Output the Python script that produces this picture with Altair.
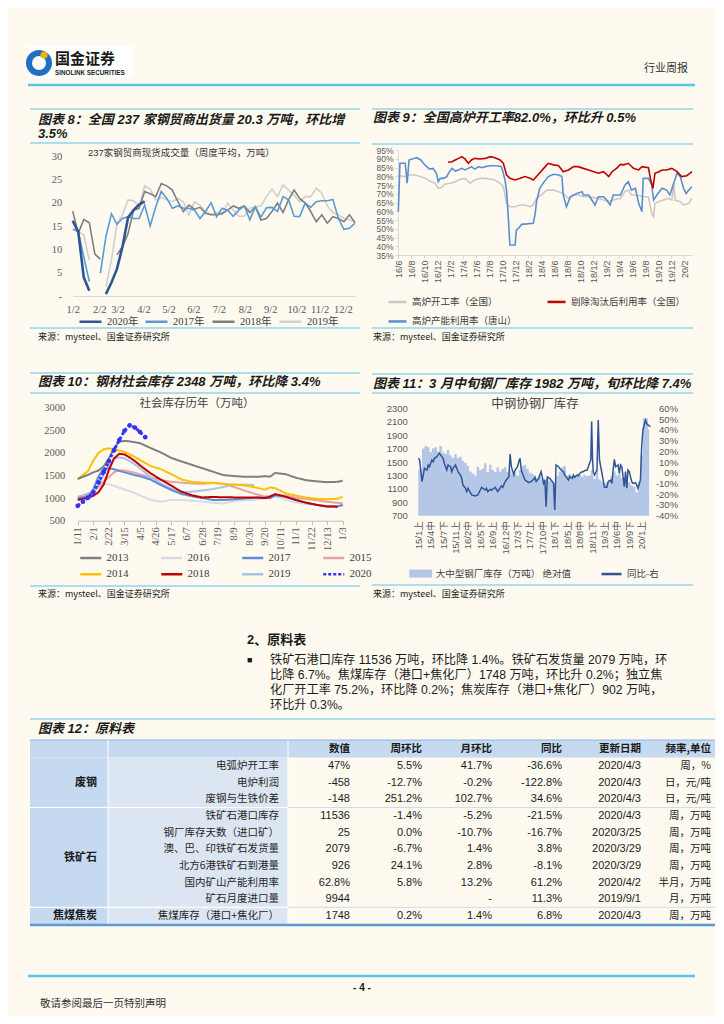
import json
import altair as alt
import pandas as pd

W, H = 708, 1008
BG = "#FFFAF0"
LB = "#5BC2EB"
CJK = "Noto Sans CJK SC"
SANS = "Liberation Sans, Noto Sans CJK SC"
SERIF = "Liberation Serif, Noto Sans CJK SC"
INK = "#1A1A1A"
AXC = "#595959"
SRC = "来源：mysteel、国金证券研究所"

# ---------------- chart 8 data (weekly, week 0 = 1/2) ----------------
c8_names = ["2020年", "2017年", "2018年", "2019年"]
c8_colors = ["#2F5597", "#5B9BD5", "#7F7F7F", "#D0D0D0"]
c8_2020 = [16.1, 13.8, 4.0, 1.1, None, None, 0.4, 2.9, 5.8, 10.6, 16.8, 18.4, 19.6, 20.3]
c8_2017 = [14.3, 13.8, 8.4, 3.1, None, 4.9, 12.7, 17.6, 15.4, 16.6, 17.0, 16.6, 16.6, 19.5, 15.0, 19.1, 22.4, 20.9, 18.8, 19.3,
           18.8, 18.8, 18.4, 16.6, 18.1, 20.0, 17.0, 18.8, 18.4, 17.1, 18.4, 19.3, 16.3, 19.1, 16.9, 18.9, 19.0, 18.1, 21.3, 20.6,
           17.1, 17.0, 19.9, 19.0, 20.2, 20.4, 20.4, 20.7, 16.6, 14.3, 14.5, 15.6]
c8_2018 = [18.2, 13.4, 16.4, 15.7, 9.0, 7.9, None, None, 8.8, 10.6, 13.4, 18.4, 18.8, 22.4, 21.9, 21.3, 24.1, 23.6, 22.7, 20.2,
           18.1, 19.5, 18.6, 19.0, 17.7, 17.4, 17.4, 17.7, 18.4, 19.3, 18.8, 19.3, 17.9, 19.1, 16.3, 16.6, 18.1, 19.9, 17.9, 20.6,
           22.7, 20.9, 19.9, 18.1, 15.9, 17.4, 15.6, 17.0, 16.6, 15.9, 17.4, 15.7]
c8_2019 = [16.3, 13.8, 13.1, 7.7, None, None, 2.0, 7.7, 15.4, 17.4, 20.6, 20.4, 19.3, 23.6, 22.9, 20.6, 21.1, 20.6, 20.2, 20.9,
           20.2, 17.4, 20.2, 19.5, 18.1, 17.4, 17.9, 17.4, 19.9, 18.4, 17.1, 17.1, 18.8, 19.1, 19.3, 21.3, 22.9, 21.3, 23.8, 22.7,
           21.6, 20.2, 21.3, 21.3, 23.1, 22.0, 19.3, 17.9, 17.4, 16.6, 16.3, 15.9]
c8_tick_pos = [0, 4.8, 8.1, 12.8, 17.3, 21.8, 26.4, 31.1, 35.7, 40.4, 44.6, 48.8]
c8_tick_lab = ["1/2", "2/2", "3/2", "4/2", "5/2", "6/2", "7/2", "8/2", "9/2", "10/2", "11/2", "12/2"]

# ---------------- chart 9 data (x = months since 2016-06) ----------------
c9_names = ["高炉开工率（全国）", "剔除淘汰后利用率（全国）", "高炉产能利用率（唐山）"]
c9_colors = ["#C9C9C9", "#C00000", "#5B8ED0"]
c9_gray_m = [0.05, 1.1, 1.8, 2.6, 3.4, 4.2, 4.9, 5.7, 6.2, 6.7, 7.2, 8.0, 8.8, 9.5, 10.3, 11.1, 11.8, 12.6, 13.4, 14.2,
             14.9, 15.7, 16.2, 16.7, 17.2, 18.0, 18.8, 19.5, 20.3, 20.8, 21.3, 22.1, 22.9, 23.9, 24.7, 25.4, 26.2, 27.0, 27.7, 28.5,
             29.3, 30.1, 30.8, 31.6, 32.4, 33.1, 34.2, 34.9, 35.4, 35.9, 36.7, 37.7, 38.5, 39.0, 39.3, 39.5, 40.1, 40.8, 41.6, 42.1,
             42.4, 42.6, 43.4, 43.9, 44.7, 45.2]
c9_gray_v = [80.3, 79.8, 80.7, 80.7, 79.8, 78.8, 77.3, 76.0, 73.1, 73.5, 75.4, 76.0, 76.9, 78.2, 78.8, 76.0, 77.9, 78.8, 78.8, 78.4,
             77.9, 76.0, 74.0, 64.5, 62.6, 62.6, 63.6, 63.6, 62.6, 63.6, 67.4, 69.7, 72.1, 72.1, 71.2, 70.2, 67.4, 69.3, 69.3, 68.3,
             68.3, 67.8, 67.4, 66.4, 65.5, 66.4, 67.4, 71.2, 72.1, 69.3, 69.3, 68.3, 68.3, 58.8, 56.9, 64.5, 65.5, 66.4, 67.4, 66.4,
             76.0, 66.4, 65.5, 63.6, 64.5, 67.4]
c9_red_m = [7.7, 8.3, 8.8, 9.3, 9.8, 10.3, 10.8, 11.3, 11.8, 12.6, 13.4, 14.2, 14.9, 15.7, 16.2, 16.7, 17.2, 18.0, 18.8, 19.5,
            20.3, 20.8, 21.6, 22.4, 23.1, 23.9, 24.7, 25.4, 26.2, 27.0, 27.7, 28.5, 29.3, 30.1, 30.8, 31.6, 32.4, 32.9, 33.6, 34.2,
            34.7, 35.4, 36.2, 37.0, 37.5, 38.5, 38.8, 39.2, 39.5, 40.1, 40.6, 41.3, 42.1, 42.9, 43.6, 44.4, 45.2]
c9_red_v = [88.0, 88.3, 89.3, 90.2, 91.2, 89.9, 87.4, 89.3, 90.2, 89.9, 90.2, 91.2, 90.6, 89.3, 87.4, 80.7, 78.8, 77.9, 78.8, 79.8,
            78.8, 77.9, 81.1, 84.5, 87.4, 86.5, 86.0, 82.6, 83.6, 85.5, 85.5, 84.5, 83.6, 82.6, 81.7, 82.6, 79.8, 82.6, 84.5, 86.8,
            86.5, 87.4, 84.5, 83.6, 85.5, 84.9, 78.8, 73.1, 81.7, 82.6, 83.6, 83.6, 84.5, 82.6, 79.8, 80.3, 82.6]
c9_blue_m = [0.05, 0.3, 1.1, 1.3, 1.4, 1.7, 2.4, 2.9, 3.5, 3.9, 4.4, 4.9, 5.4, 5.9, 6.2, 6.5, 7.0, 7.5, 7.9, 8.3,
             8.8, 9.3, 9.8, 10.3, 10.8, 11.3, 11.8, 12.4, 12.9, 13.4, 14.2, 15.2, 15.9, 16.2, 16.5, 16.7, 17.0, 17.2, 18.0, 18.2,
             18.5, 19.0, 20.8, 21.1, 21.3, 21.8, 22.4, 23.1, 23.9, 24.7, 25.2, 25.4, 25.9, 26.5, 27.0, 27.5, 28.3, 28.5, 29.3, 29.8,
             30.3, 30.8, 31.6, 32.1, 32.6, 33.1, 34.2, 34.9, 35.4, 35.9, 36.5, 37.0, 37.5, 37.7, 38.5, 39.0, 39.3, 39.8, 40.6, 41.3,
             41.8, 42.9, 43.4, 43.9, 44.3, 44.7, 45.2]
c9_blue_v = [59.8, 87.4, 87.4, 80.7, 76.0, 89.3, 90.2, 90.6, 89.3, 87.4, 85.5, 84.1, 84.5, 81.7, 76.9, 78.8, 78.8, 79.8, 82.6, 84.5,
             83.0, 83.6, 84.5, 83.6, 84.5, 85.5, 84.1, 85.5, 84.9, 85.5, 86.0, 86.0, 85.5, 81.7, 76.9, 71.2, 54.0, 40.7, 40.7, 49.3,
             50.2, 52.5, 53.1, 58.8, 65.5, 73.1, 76.5, 79.8, 81.1, 80.7, 79.8, 69.3, 62.6, 68.3, 69.3, 70.2, 71.2, 69.3, 69.3, 66.4,
             63.6, 68.3, 68.3, 66.4, 63.6, 69.3, 69.3, 75.0, 76.9, 72.1, 73.1, 64.5, 59.8, 78.8, 78.8, 75.0, 66.4, 69.3, 73.1, 72.1,
             69.3, 81.7, 79.8, 73.1, 70.2, 72.1, 74.0]

# ---------------- chart 10 data (x = weeks since 1/11) ----------------
c10_names = ["2013", "2016", "2017", "2015", "2014", "2018", "2019", "2020"]
c10_colors = ["#7F7F7F", "#D5DCE6", "#5B8ED6", "#E6A3A3", "#FFC000", "#C00000", "#A9C4E8", "#3333FF"]
c10_weeks = [0, 2, 3, 4, 5, 6, 7, 8, 9, 10, 11, 12, 14, 16, 18, 20, 22, 24, 26, 28, 30, 32, 34, 35, 36, 37, 38, 40, 42, 44, 46, 48, 50, 51]
c10_2013 = [1422, 1515, 1570, 1610, 1700, 1880, 2110, 2248, 2265, 2255, 2235, 2215, 2110, 2010, 1890, 1810, 1735, 1660, 1585, 1510,
            1488, 1474, 1474, 1474, 1485, 1474, 1555, 1530, 1450, 1395, 1370, 1352, 1360, 1385]
c10_2014 = [1422, 1600, 1830, 2000, 2080, 2100, 2080, 2050, 2020, 1970, 1910, 1840, 1710, 1640, 1530, 1410, 1360, 1340, 1340, 1310,
            1300, 1280, 1240, 1215, 1185, 1235, 1220, 1110, 1055, 1010, 985, 975, 985, 1030]
c10_2015 = [1030, 1095, 1150, 1260, 1370, 1460, 1575, 1620, 1610, 1585, 1560, 1525, 1460, 1400, 1360, 1340, 1325, 1315, 1338, 1320,
            1250, 1170, 1100, 1070, 1035, 1050, 1072, 1060, 1010, 980, 950, 920, 895, 883]
c10_2016 = [1000, 1050, 1120, 1230, 1300, 1310, 1270, 1230, 1190, 1150, 1110, 1060, 960, 920, 960, 960, 940, 920, 900, 880,
            930, 950, 960, 980, 990, 1000, 1040, 960, 900, 870, 850, 820, 810, 830]
c10_2017 = [995, 1040, 1200, 1480, 1650, 1660, 1640, 1600, 1570, 1540, 1505, 1485, 1410, 1290, 1180, 1090, 1040, 1000, 960, 957,
            970, 990, 1005, 1012, 1015, 995, 1060, 1030, 965, 890, 850, 812, 820, 850]
c10_2018 = [960, 1010, 1050, 1130, 1300, 1620, 1880, 1980, 1965, 1900, 1820, 1725, 1550, 1410, 1275, 1140, 1062, 1015, 1025, 1018,
            1016, 1016, 1016, 1010, 1000, 1030, 1090, 1030, 955, 900, 850, 815, 810, None]
c10_2019 = [1016, 1070, 1150, 1300, 1510, 1720, 1870, 1900, 1880, 1820, 1745, 1660, 1470, 1326, 1210, 1142, 1142, 1168, 1200, 1245,
            1295, 1300, 1289]
c10_2020 = [830, 920, 1010, 1120, 1350, 1580, 1820, 2060, 2285, 2490, 2610, 2560, 2460, 2348]
c10_tick_lab = ["1/11", "2/1", "2/22", "3/15", "4/5", "4/26", "5/17", "6/7", "6/28", "7/19", "8/9", "8/30", "9/20",
                "10/11", "11/1", "11/22", "12/13", "1/3"]

# ---------------- chart 11 data (x = ten-day periods since 15/1上) ----------------
c11_stock = [1380, 1400, 1700, 1740, 1720, 1650, 1700, 1720, 1660, 1740,
             1640, 1620, 1680, 1600, 1560, 1620, 1560, 1580, 1520, 1490,
             1440, 1360, 1330, 1300, 1430, 1380, 1400, 1480, 1350, 1460,
             1380, 1350, 1420, 1360, 1400, 1420, 1350, 1380, 1320, 1340,
             1300, 1380, 1440, 1460, 1400, 1340, 1320, 1300, 1260, 1290,
             1240, 1250, 1260, 1220, 1200, 1180, 1290, 1360, 1420, 1440,
             1300, 1320, 1290, 1300, 1300, 1310, 1280, 1310, 1290, 1300,
             1380, 1250, 1370, 1240, 1210, 1180, 1200, 1230, 1290, 1360,
             1300, 1320, 1260, 1200, 1240, 1200, 1150, 1130, 1050, 1200,
             1600, 2150, 2150, 1982]
c11_yoy = [(0, 13.4), (1, 12.5), (3, -8.3), (4, -2.1), (5, 4.1), (7, 2.5), (8, 7.2), (9, 5.6), (11, 11.9), (12, 10.3),
           (13, 13.4), (15, 15.0), (16, 16.6), (17, 18.1), (19, 15.0), (20, 13.4), (21, 8.8), (23, 2.5), (24, 7.2), (26, 5.6),
           (27, 1.0), (28, 4.1), (30, 7.2), (31, 4.1), (32, 1.0), (34, -2.1), (35, -5.2), (36, -11.4), (38, -14.5), (39, -17.6),
           (40, -14.5), (42, -18.6), (43, -20.7), (46, -21.7), (48, -20.7), (50, -16.1), (51, -13.6), (54, -16.1), (55, -14.5),
           (56, -17.6), (58, -15.5), (59, -16.1), (62, -13.6), (64, -17.6), (67, -12.4), (68, -13.6), (70, -8.3), (71, -6.8),
           (73, -3.7), (74, 17.5), (75, 5.6), (77, -2.1), (78, 2.5), (80, 5.6), (81, 10.3), (82, 13.4), (83, 2.5), (85, -3.7),
           (86, -6.8), (89, -9.3), (91, -8.3), (93, -6.1), (94, -4.3), (95, -8.3), (97, -5.2), (99, 1.0), (101, -9.9),
           (102, -6.8), (103, -31.6), (104, -4.0), (106, -5.2), (107, -6.8), (109, -9.9), (110, -34.7), (111, 7.2), (113, 5.6),
           (114, 4.1), (115, 2.5), (117, 1.0), (118, -2.1), (120, -5.2), (121, -6.8), (122, -3.7), (124, -5.2), (125, -2.1),
           (126, -4.3), (128, -2.1), (129, -3.0), (130, -0.6), (132, 1.0), (133, 1.0), (134, 1.9), (136, 2.5), (137, 5.6),
           (139, 11.9), (139.7, 47.6), (140.4, 13.4), (141, 1.0), (142, -2.1), (144, 2.5), (145, 49.0), (146, 11.9),
           (148, -0.6), (149, -6.8), (150, -13.6), (152, -13.6), (153, -8.3), (155, -6.8), (156, -9.9), (157, 2.5),
           (158, 12.5), (159, 5.6), (161, 7.2), (162, -0.6), (163, 7.2), (164, 5.6), (166, -13.0), (167, 1.0), (168, -14.5),
           (169, 2.5), (170, 1.0), (172, -8.3), (173, -9.9), (175, -9.3), (176, -11.4), (177, -14.5), (179, -6.8), (180, 24.3),
           (181, 39.8), (183, 49.0), (184, 46.0), (185, 44.5), (187, 42.9)]
c11_bar_name = "大中型钢厂库存（万吨）  绝对值"
c11_line_name = "同比-右"

# ---------------- table data ----------------
tbl_items = ["电弧炉开工率", "电炉利润", "废钢与生铁价差", "铁矿石港口库存", "钢厂库存天数（进口矿）",
             "澳、巴、印铁矿石发货量", "北方6港铁矿石到港量", "国内矿山产能利用率", "矿石月度进口量", "焦煤库存（港口+焦化厂）"]
tbl_heads = ["数值", "周环比", "月环比", "同比", "更新日期", "频率,单位"]
tbl_value = ["47%", "-458", "-148", "11536", "25", "2079", "926", "62.8%", "9944", "1748"]
tbl_wow = ["5.5%", "-12.7%", "251.2%", "-1.4%", "0.0%", "-6.7%", "24.1%", "5.8%", "", "0.2%"]
tbl_mom = ["41.7%", "-0.2%", "102.7%", "-5.2%", "-10.7%", "1.4%", "2.8%", "13.2%", "-", "1.4%"]
tbl_yoy = ["-36.6%", "-122.8%", "34.6%", "-21.5%", "-16.7%", "3.8%", "-8.1%", "61.2%", "11.3%", "6.8%"]
tbl_date = ["2020/4/3", "2020/4/3", "2020/4/3", "2020/4/3", "2020/3/25", "2020/3/29", "2020/3/29", "2020/4/2", "2019/9/1", "2020/4/3"]
tbl_freq = ["周，%", "日，元/吨", "日，元/吨", "周，万吨", "周，万吨", "周，万吨", "周，万吨", "半月，万吨", "月，万吨", "周，万吨"]
tbl_cats = ["废钢", "铁矿石", "焦煤焦炭"]
tbl_cat_rows = [(0, 2), (3, 8), (9, 9)]

para_lines = [
    "铁矿石港口库存 11536 万吨，环比降 1.4%。铁矿石发货量 2079 万吨，环",
    "比降 6.7%。焦煤库存（港口+焦化厂）1748 万吨，环比升 0.2%；独立焦",
    "化厂开工率 75.2%，环比降 0.2%；焦炭库存（港口+焦化厂）902 万吨，",
    "环比升 0.3%。",
]

# ---------------- helpers ----------------
ONE = pd.DataFrame({"k": [0]})
LINE_SYM = "M-2,0H2"
RECT_SYM = "M-2,-0.7H2V0.7H-2Z"


def txt(x, y, s, size=11, bold=False, italic=False, color=INK, font=SANS, align="left"):
    kw = dict(align=align, baseline="middle", fontSize=size, color=color, font=font)
    if bold:
        kw["fontWeight"] = "bold"
    if italic:
        kw["fontStyle"] = "italic"
    return alt.Chart(pd.DataFrame({"t": [s]})).mark_text(**kw).encode(
        x=alt.value(x), y=alt.value(y), text="t:N")


def hline(x1, x2, y, color=LB, width=1.2):
    return alt.Chart(ONE).mark_rule(color=color, strokeWidth=width).encode(
        x=alt.value(x1), x2=alt.value(x2), y=alt.value(y))


def vline(x, y1, y2, color="#FFFFFF", width=1.0):
    return alt.Chart(ONE).mark_rule(color=color, strokeWidth=width).encode(
        x=alt.value(x), y=alt.value(y1), y2=alt.value(y2))


def box(x1, x2, y1, y2, fill):
    return alt.Chart(ONE).mark_rect(color=fill).encode(
        x=alt.value(x1), x2=alt.value(x2), y=alt.value(y1), y2=alt.value(y2))


def segs(xs, ys, name):
    out, seg = [], 0
    for x, y in zip(xs, ys):
        if y is None:
            seg += 1
            continue
        out.append({"x": x, "y": y, "s": name, "g": f"{name}#{seg}"})
    return out


def ax(orient, offset, **kw):
    base = dict(orient=orient, offset=offset, grid=False, title=None, labelFlush=False,
                labelOverlap=False, labelColor=AXC)
    base.update(kw)
    return alt.Axis(**base)


def line_legend(x_start, y_center, length, font, fsize, **kw):
    half = length / 2.0
    return alt.Legend(orient="none", legendX=x_start + half / 2.0, legendY=y_center - fsize / 2.0, title=None,
                      symbolType=LINE_SYM, symbolSize=half * half, symbolStrokeWidth=2.5,
                      labelFont=font, labelFontSize=fsize, labelColor="#404040",
                      labelOffset=half / 2.0 + 4, padding=0, **kw)


layers = []

# ---------------- page header ----------------
layers += [
    box(20, 124, 38, 70, "#FFFFFF"),
    alt.Chart(ONE).mark_point(shape="circle", size=400, filled=False, strokeWidth=6, color="#1F6FC5", opacity=1).encode(
        x=alt.value(31), y=alt.value(55)),
    alt.Chart(ONE).mark_point(shape="circle", size=50, filled=True, color="#F2B400", opacity=1).encode(
        x=alt.value(36), y=alt.value(47)),
    txt(47, 51, "国金证券", size=15, bold=True, font=CJK),
    txt(47, 65, "SINOLINK SECURITIES", size=6.3, bold=True, font="Liberation Sans"),
    txt(636, 61, "行业周报", size=11, color="#333333", font=CJK),
    hline(20, 687, 77, LB, 2.5),
]

# ---------------- frames / titles ----------------
TKW = dict(size=13, bold=True, italic=True, font=SANS)
layers += [
    hline(22, 352, 101), hline(364, 685, 101),
    txt(30, 112, "图表 8：全国 237 家钢贸商出货量 20.3 万吨，环比增", **TKW),
    txt(30, 126, "3.5%", **TKW),
    txt(365, 110, "图表 9：全国高炉开工率82.0%，环比升 0.5%", **TKW),
    hline(22, 352, 135), hline(364, 685, 136),
    txt(80, 145, "237家钢贸商现货成交量（周度平均，万吨）", size=9.5, color="#333333"),
    hline(22, 352, 320), hline(364, 685, 320),
    txt(30, 329, SRC, size=9, font=CJK), txt(365, 329, SRC, size=9, font=CJK),
    hline(22, 352, 365), hline(364, 685, 366),
    txt(30, 374, "图表 10：钢材社会库存 2348 万吨，环比降 3.4%", **TKW),
    txt(365, 376, "图表 11：3 月中旬钢厂库存 1982 万吨，旬环比降 7.4%", **TKW),
    hline(22, 352, 385), hline(364, 685, 385),
    txt(189, 396, "社会库存历年（万吨）", size=11.5, align="center", color="#404040", font=CJK),
    txt(527, 396, "中钢协钢厂库存", size=12.5, align="center", color="#404040", font=CJK),
    hline(22, 352, 578), hline(364, 685, 577),
    txt(30, 586, SRC, size=9, font=CJK), txt(365, 586, SRC, size=9, font=CJK),
]

# ---------------- chart 8 (one layer per series, each with its own one-entry legend) ----------------
X8 = alt.Scale(domain=[0, 51], range=[64.7, 347])
Y8 = alt.Scale(domain=[0, 30], range=[288, 148])
expr8 = "%s[indexof(%s, datum.value)]" % (json.dumps(c8_tick_lab), json.dumps(c8_tick_pos))
c8_data = {"2020年": c8_2020, "2017年": c8_2017, "2018年": c8_2018, "2019年": c8_2019}
c8_legend_x = {"2020年": 70, "2017年": 136, "2018年": 203, "2019年": 270}
c8_width = {"2020年": 2.6, "2017年": 1.6, "2018年": 1.6, "2019年": 1.6}
for k, nm in enumerate(["2019年", "2018年", "2017年", "2020年"]):
    vals = c8_data[nm]
    dfk = pd.DataFrame(segs(range(len(vals)), vals, nm))
    first = k == 0
    x_axis = ax("bottom", 288 - H, values=c8_tick_pos, labelExpr=expr8, domain=True, domainColor="#D9D9D9",
                ticks=False, labelFont=SERIF, labelFontSize=10.5, labelPadding=8, labelAngle=0) if first else None
    y_axis = ax("left", -64.7, values=[0, 5, 10, 15, 20, 25, 30], labelExpr="datum.value == 0 ? '-' : datum.label",
                domain=False, ticks=False, labelFont=SERIF, labelFontSize=10.5, labelPadding=11) if first else None
    layers.append(alt.Chart(dfk).mark_line(strokeWidth=c8_width[nm]).encode(
        x=alt.X("x:Q", scale=X8, axis=x_axis),
        y=alt.Y("y:Q", scale=Y8, axis=y_axis),
        color=alt.Color("s:N", scale=alt.Scale(domain=[nm], range=[c8_colors[c8_names.index(nm)]]),
                        legend=line_legend(c8_legend_x[nm], 312, 22, SERIF, 10.5)),
        detail="g:N",
    ))

# ---------------- chart 9 ----------------
X9 = alt.Scale(domain=[0, 45.2], range=[390, 684])
Y9 = alt.Scale(domain=[35, 95], range=[247, 142])
df9 = pd.DataFrame(segs(c9_gray_m, c9_gray_v, c9_names[0]) + segs(c9_blue_m, c9_blue_v, c9_names[2])
                   + segs(c9_red_m, c9_red_v, c9_names[1]))
leg9 = line_legend(379, 292.7, 18, CJK, 9.5, direction="horizontal", columns=2, columnPadding=25, rowPadding=8.5)
layers.append(alt.Chart(df9).mark_line(strokeWidth=1.6).encode(
    x=alt.X("x:Q", scale=X9, axis=ax("bottom", 247 - H, values=list(range(0, 45, 2)),
                                     labelExpr="(16 + floor((datum.value + 5) / 12)) + '/' + ((datum.value + 5) % 12 + 1)",
                                     domain=True, domainColor="#D9D9D9", ticks=True, tickSize=3, tickColor="#D9D9D9",
                                     labelFont=SANS, labelFontSize=9, labelPadding=2, labelAngle=-90)),
    y=alt.Y("y:Q", scale=Y9, axis=ax("left", -390, values=list(range(35, 96, 5)), labelExpr="datum.value + '%'",
                                     domain=True, domainColor="#D9D9D9", ticks=True, tickSize=3, tickColor="#D9D9D9",
                                     labelFont=SANS, labelFontSize=8.5, labelPadding=2)),
    color=alt.Color("s:N", scale=alt.Scale(domain=c9_names, range=c9_colors), legend=leg9),
    detail="g:N",
))

# ---------------- chart 10 ----------------
X10 = alt.Scale(domain=[0, 51], range=[69.7, 334.7])
Y10 = alt.Scale(domain=[500, 3000], range=[512.7, 399.7])
c10_series = {"2016": c10_2016, "2015": c10_2015, "2019": c10_2019, "2017": c10_2017, "2014": c10_2014,
              "2013": c10_2013, "2018": c10_2018}
rows10 = []
for nm, vals in c10_series.items():
    rows10 += segs(c10_weeks, vals, nm)
df10 = pd.DataFrame(rows10)
df10b = pd.DataFrame({"x": list(range(len(c10_2020))), "y": c10_2020})
leg10 = line_legend(71, 548.7, 21, SERIF, 11, direction="horizontal", columns=4, columnPadding=27, rowPadding=4.6)
dash10 = [[1, 0]] * 7 + [[3, 2]]
layers.append(alt.Chart(df10).mark_line(strokeWidth=2).encode(
    x=alt.X("x:Q", scale=X10, axis=ax("bottom", 512.7 - H, values=list(range(0, 52, 3)),
                                      labelExpr="%s[datum.value / 3]" % json.dumps(c10_tick_lab),
                                      domain=True, domainColor="#BFBFBF", ticks=True, tickSize=4, tickColor="#BFBFBF",
                                      labelFont=SERIF, labelFontSize=10.5, labelPadding=2, labelAngle=-90)),
    y=alt.Y("y:Q", scale=Y10, axis=ax("left", -69.7, values=list(range(500, 3001, 500)), format="d",
                                      domain=False, ticks=False, labelFont=SERIF, labelFontSize=10.5,
                                      labelPadding=13)),
    color=alt.Color("s:N", scale=alt.Scale(domain=c10_names, range=c10_colors), legend=leg10),
    strokeDash=alt.StrokeDash("s:N", scale=alt.Scale(domain=c10_names, range=dash10), legend=leg10),
    detail="g:N",
))
layers.append(alt.Chart(df10b).mark_line(strokeWidth=3, color="#3333FF", strokeDash=[3, 2]).encode(
    x=alt.X("x:Q", scale=X10, axis=None), y=alt.Y("y:Q", scale=Y10, axis=None)))
layers.append(alt.Chart(df10b).mark_circle(size=22, color="#3333FF", opacity=1).encode(
    x=alt.X("x:Q", scale=X10, axis=None), y=alt.Y("y:Q", scale=Y10, axis=None)))

# ---------------- chart 11 ----------------
X11 = alt.Scale(domain=[-1.5, 188], range=[408.4, 643.6])
Y11L = alt.Scale(domain=[700, 2300], range=[507.7, 400.3])
Y11R = alt.Scale(domain=[-40, 60], range=[507.7, 400.3])
df11a = pd.DataFrame({"x": list(range(0, 188, 2)), "y": c11_stock, "s": c11_bar_name})
df11b = pd.DataFrame({"x": [p[0] for p in c11_yoy], "y": [p[1] for p in c11_yoy], "s": c11_line_name})
expr11 = "(15 + floor(datum.value / 36)) + '/' + (floor((datum.value % 36) / 3) + 1) + ['上', '中', '下'][datum.value % 3]"
leg11a = alt.Legend(orient="none", legendX=401 + 5.75, legendY=564.3 - 4.75, title=None, symbolType=RECT_SYM,
                    symbolSize=132, symbolStrokeWidth=0, labelFont=CJK, labelFontSize=9.5, labelColor="#404040",
                    labelOffset=9, padding=0)
leg11b = line_legend(592, 564.3, 20, CJK, 9.5)
layers.append(alt.Chart(df11a).mark_area(interpolate="step", opacity=1).encode(
    x=alt.X("x:Q", scale=X11, axis=ax("bottom", 507.7 - H, values=list(range(0, 181, 10)), labelExpr=expr11,
                                      domain=False, ticks=False, labelFont=SANS, labelFontSize=9.5,
                                      labelPadding=5, labelAngle=-90)),
    y=alt.Y("y:Q", scale=Y11L, axis=ax("left", -408.4, values=list(range(700, 2301, 200)), format="d",
                                       domain=False, ticks=False, labelFont=SANS, labelFontSize=9.5,
                                       labelPadding=9)),
    y2=alt.datum(700),
    color=alt.Color("s:N", scale=alt.Scale(domain=[c11_bar_name], range=["#B4C7E7"]), legend=leg11a),
))
layers.append(alt.Chart(df11b).mark_line(strokeWidth=1.5).encode(
    x=alt.X("x:Q", scale=X11, axis=None),
    y=alt.Y("y:Q", scale=Y11R, axis=ax("right", 643.6 - W, values=list(range(-40, 61, 10)),
                                       labelExpr="datum.value + '%'", domain=False, ticks=False, labelFont=SANS,
                                       labelFontSize=9.5, labelAlign="right", labelPadding=26)),
    color=alt.Color("s:N", scale=alt.Scale(domain=[c11_line_name], range=["#2F5597"]), legend=leg11b),
))

# ---------------- text section ----------------
layers.append(txt(239, 632, "2、原料表", size=13, bold=True, font=SANS))
layers.append(txt(239, 652, "■", size=9, font=SANS))
for i, line in enumerate(para_lines):
    layers.append(txt(262, 652 + 15 * i, line, size=12.2, color="#1A1A1A", font=SANS))

# ---------------- table ----------------
layers += [
    hline(22, 707, 711),
    txt(30, 721, "图表 12：原料表", **TKW),
    box(22, 707, 732, 749.5, "#C5D9F1"),
    hline(22, 707, 732, "#8DB4E2", 1.2),
    box(22, 100, 749.5, 917, "#C5D9F1"),
    box(100, 280, 749.5, 917, "#DCE6F2"),
    vline(100, 732, 917), vline(280, 732, 917),
    hline(22, 280, 799.5, "#FFFFFF", 1.2), hline(280, 707, 799.5, "#BDD7EE", 0.8),
    hline(22, 280, 899.3, "#FFFFFF", 1.2), hline(280, 707, 899.3, "#BDD7EE", 0.8),
    hline(22, 707, 917, "#5B9BD5", 2.5),
]
ROWS = alt.Scale(domain=[0, 9], range=[758, 908])
layers.append(alt.Chart(pd.DataFrame({"row": list(range(10)), "item": tbl_items})).mark_text(
    align="right", baseline="middle", font=CJK, fontSize=10.5, color="#262626").encode(
    x=alt.value(271), y=alt.Y("row:Q", scale=ROWS, axis=None), text="item:N"))
cat_df = pd.DataFrame({"cat": tbl_cats, "mid": [(a + b) / 2 for a, b in tbl_cat_rows]})
layers.append(alt.Chart(cat_df).mark_text(
    align="right", baseline="middle", font=CJK, fontSize=11, fontWeight="bold", color=INK).encode(
    x=alt.value(89), y=alt.Y("mid:Q", scale=ROWS, axis=None), text="cat:N"))
TBL_X = [342, 414, 484, 554, 633, 703]
for j, (head, vals) in enumerate(zip(tbl_heads, [tbl_value, tbl_wow, tbl_mom, tbl_yoy, tbl_date, tbl_freq])):
    fnt = CJK if j == 5 else SANS
    fs = 10.5 if j == 5 else 11
    layers.append(alt.Chart(pd.DataFrame({"row": list(range(10)), "val": vals})).mark_text(
        align="right", baseline="middle", font=fnt, fontSize=fs, color=INK).encode(
        x=alt.value(TBL_X[j]), y=alt.Y("row:Q", scale=ROWS, axis=None), text="val:N"))
    layers.append(txt(TBL_X[j], 740.5, head, size=10.5, bold=True, font=CJK, align="right"))

# ---------------- footer ----------------
layers += [
    hline(20, 687, 968, LB, 2.5),
    txt(354, 980, "- 4 -", size=10, bold=True, align="center", font=SANS),
    txt(32, 996, "敬请参阅最后一页特别声明", size=10.5, font=CJK, color="#333333"),
]

chart = (
    alt.layer(*layers)
    .resolve_scale(x="independent", y="independent", color="independent", strokeDash="independent")
    .resolve_axis(x="independent", y="independent")
    .resolve_legend(color="independent", strokeDash="independent")
    .properties(width=W, height=H, autosize=alt.AutoSizeParams(type="none"), padding=0, background=BG)
    .configure_view(stroke="transparent")
)
chart.save("out.html", embed_options={"renderer": "svg", "actions": False})
